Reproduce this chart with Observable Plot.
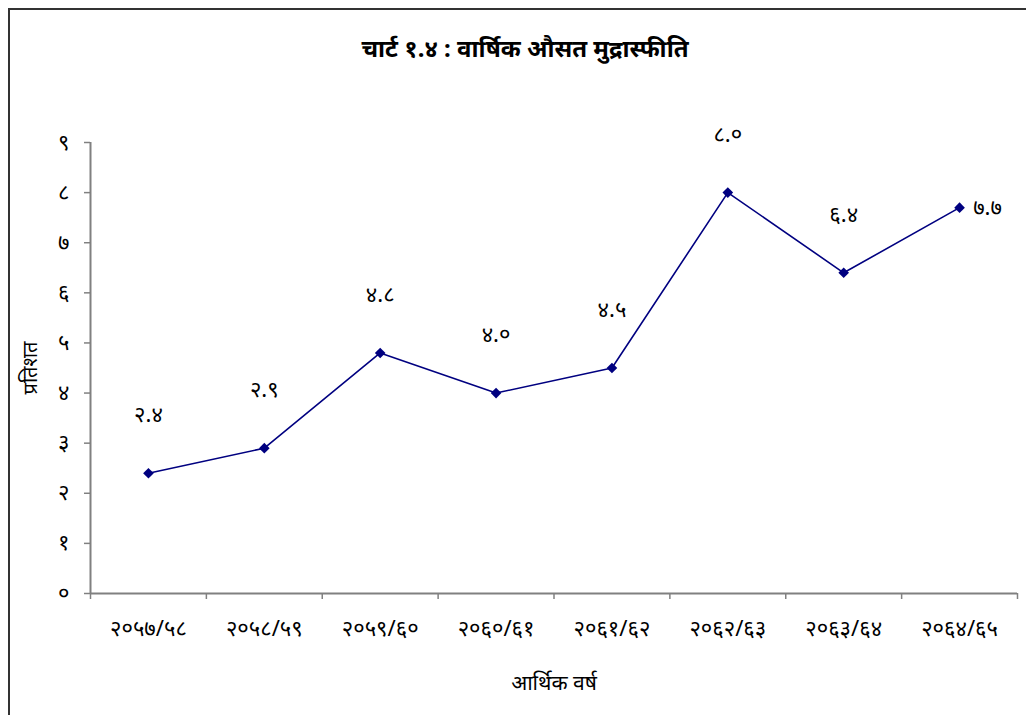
<!DOCTYPE html>
<html><head><meta charset="utf-8">
<script src="https://cdn.jsdelivr.net/npm/d3@7"></script>
<script src="https://cdn.jsdelivr.net/npm/@observablehq/plot@0.6"></script>
<style>
body{margin:0;background:#fff;}
#frame{position:absolute;left:8px;top:8px;width:1040px;height:740px;border:2px solid #333;box-sizing:border-box;}
#title{position:absolute;left:0;width:1050px;top:31px;text-align:center;font-weight:bold;font-size:24px;font-family:"Noto Sans",sans-serif;}
#chart{position:absolute;left:0;top:0;}
</style></head>
<body>
<div id="frame"></div>
<div id="title">चार्ट १.४ : वार्षिक औसत मुद्रास्फीति</div>
<div id="chart"></div>
<script>
const categories = ["२०५७/५८","२०५८/५९","२०५९/६०","२०६०/६१","२०६१/६२","२०६२/६३","२०६३/६४","२०६४/६५"];
const values = [2.4, 2.9, 4.8, 4.0, 4.5, 8.0, 6.4, 7.7];
const valueLabels = ["२.४","२.९","४.८","४.०","४.५","८.०","६.४","७.७"];
const yTicks = [0,1,2,3,4,5,6,7,8,9];
const yTickLabels = ["०","१","२","३","४","५","६","७","८","९"];
const yLabel = "प्रतिशत";
const xLabel = "आर्थिक वर्ष";

const data = categories.map((c, i) => ({i, c, v: values[i], label: valueLabels[i], pos: i + 0.5}));
const boundaries = d3.range(0, categories.length + 1);
const last = categories.length - 1;
const navy = "#000080";
const axisGray = "#808080";

const chart = Plot.plot({
  width: 1026, height: 715,
  marginLeft: 90, marginRight: 9, marginTop: 142, marginBottom: 122,
  style: {fontFamily: "'Noto Sans', sans-serif", fontSize: "16px", color: "black", background: "transparent"},
  x: {domain: [0, categories.length]},
  y: {domain: [0, 9]},
  marks: [
    Plot.axisY(yTicks, {tickSize: 6, tickPadding: 15, stroke: axisGray, strokeWidth: 1.5, tickFormat: d => yTickLabels[d], fontSize: 22,
      label: null}),
    Plot.text([yLabel], {frameAnchor: "left", textAnchor: "middle", dx: -60, rotate: -90, fontSize: 20}),
    Plot.axisX(boundaries, {tickSize: 6, stroke: axisGray, strokeWidth: 1.5, tickFormat: () => "", label: null}),
    Plot.axisX(data.map(d => d.pos), {tickSize: 0, tickPadding: 27, tickFormat: x => categories[Math.floor(x)], fontSize: 22,
      letterSpacing: 1, label: null}),
    Plot.text([xLabel], {frameAnchor: "bottom", dy: 96, fontSize: 21}),
    Plot.ruleX([0], {stroke: axisGray, strokeWidth: 2}),
    Plot.ruleY([0], {stroke: axisGray, strokeWidth: 2}),
    Plot.line(data, {x: "pos", y: "v", stroke: navy, strokeWidth: 1.6}),
    Plot.dot(data, {x: "pos", y: "v", symbol: "diamond2", r: 4.8, fill: navy, stroke: null}),
    Plot.text(data.filter(d => d.i !== last), {x: "pos", y: "v", text: "label", dy: -58, fontSize: 22, letterSpacing: 2}),
    Plot.text(data.filter(d => d.i === last), {x: "pos", y: "v", text: "label", dx: 28, fontSize: 22, letterSpacing: 2})
  ]
});
document.getElementById("chart").appendChild(chart);
</script>
</body></html>
